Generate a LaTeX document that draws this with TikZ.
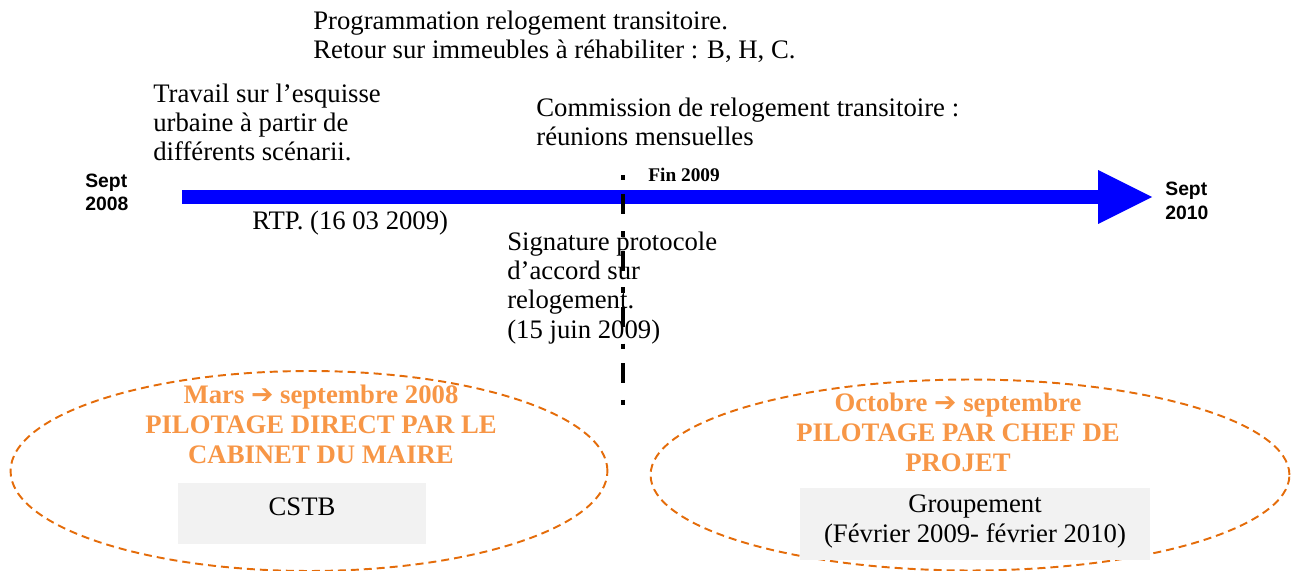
\documentclass[tikz,border=0pt]{standalone}
\usepackage{fontspec}
\setmainfont{Liberation Serif}
\newfontfamily\arialfont{Liberation Sans}
\newfontfamily\symbfont{DejaVu Sans}
\usetikzlibrary{arrows.meta,shapes.geometric}
\definecolor{bleu}{HTML}{0000FF}
\definecolor{orangetxt}{HTML}{F79646}
\definecolor{orangetrait}{HTML}{E46C0A}
\definecolor{grisfond}{HTML}{F2F2F2}
\newcommand{\fleche}{{\symbfont\bfseries ➔}}

\begin{document}
\begin{tikzpicture}[
    x=0.02cm,
    y=-0.02cm,
    texte/.style={
      inner sep=0pt,
      align=left,
      anchor=base west,
      font=\fontsize{15.2}{16.6}\selectfont
    },
    date/.style={
      inner sep=0pt,
      align=left,
      anchor=base west,
      font=\arialfont\bfseries\fontsize{11}{13.6}\selectfont
    },
    periode/.style={
      ellipse,
      draw=orangetrait,
      line width=1.1pt,
      dash pattern=on 0.16cm off 0.1cm,
      inner sep=0pt
    },
    pilote/.style={
      inner sep=0pt,
      align=center,
      anchor=base,
      text=orangetxt,
      font=\bfseries\fontsize{15.2}{16.8}\selectfont
    },
    boite/.style={
      fill=grisfond,
      inner sep=0pt
    }
  ]

  \useasboundingbox (0,0) rectangle (1299,571);

  % periodes
  \node (per1) at (309,471) [periode, minimum width=11.94cm, minimum height=4cm]{};
  \node (per2) at (970,475) [periode, minimum width=12.78cm, minimum height=3.82cm]{};

  \node (cstb) at (302,513.5) [boite, minimum width=4.96cm, minimum height=1.22cm]{};
  \node (grp) at (975,524) [boite, minimum width=7cm, minimum height=1.46cm]{};

  % (base = derniere ligne)
  \node (pil1) at (321,463) [pilote]{Mars \fleche{} septembre 2008\\PILOTAGE DIRECT PAR LE\\CABINET DU MAIRE};
  \node (pil2) at (958,471) [pilote]{Octobre \fleche{} septembre\\PILOTAGE PAR CHEF DE\\PROJET};

  \node (cstbtxt) at (302,515) [texte, anchor=base]{CSTB};
  \node (grptxt) at (975,542) [texte, align=center, anchor=base]{Groupement\\(Février 2009- février 2010)};

  % frise
  \coordinate (t0) at (182,197);
  \coordinate (t1) at (1152,197);
  \draw[bleu, line width=0.28cm, -{Triangle[length=1.08cm,width=1.08cm,line width=0pt]}] (t0) -- (t1);

  \coordinate (f0) at (623,175);
  \coordinate (f1) at (623,405);
  \draw[line width=0.09cm, dash pattern=on 0.11cm off 0.28cm on 0.4cm off 0.335cm] (f0) -- (f1);

  \node (debut) at (85,211) [date]{Sept\\2008};
  \node (fin) at (1165,219) [date]{Sept\\2010};
  \node (fin2009) at (648,181) [texte, font=\bfseries\fontsize{11}{13}\selectfont]{Fin 2009};

  % evenements
  \node (prog) at (313,59) [texte]{Programmation relogement transitoire.\\Retour sur immeubles à réhabiliter : B, H, C.};
  \node (esquisse) at (153,161) [texte]{Travail sur l’esquisse\\urbaine à partir de\\différents scénarii.};
  \node (commission) at (536,146) [texte]{Commission de relogement transitoire :\\réunions mensuelles};
  \node (rtp) at (252,230) [texte]{RTP. (16 03 2009)};
  \node (signature) at (507,338) [texte]{Signature protocole\\d’accord sur\\relogement.\\(15 juin 2009)};

\end{tikzpicture}
\end{document}
